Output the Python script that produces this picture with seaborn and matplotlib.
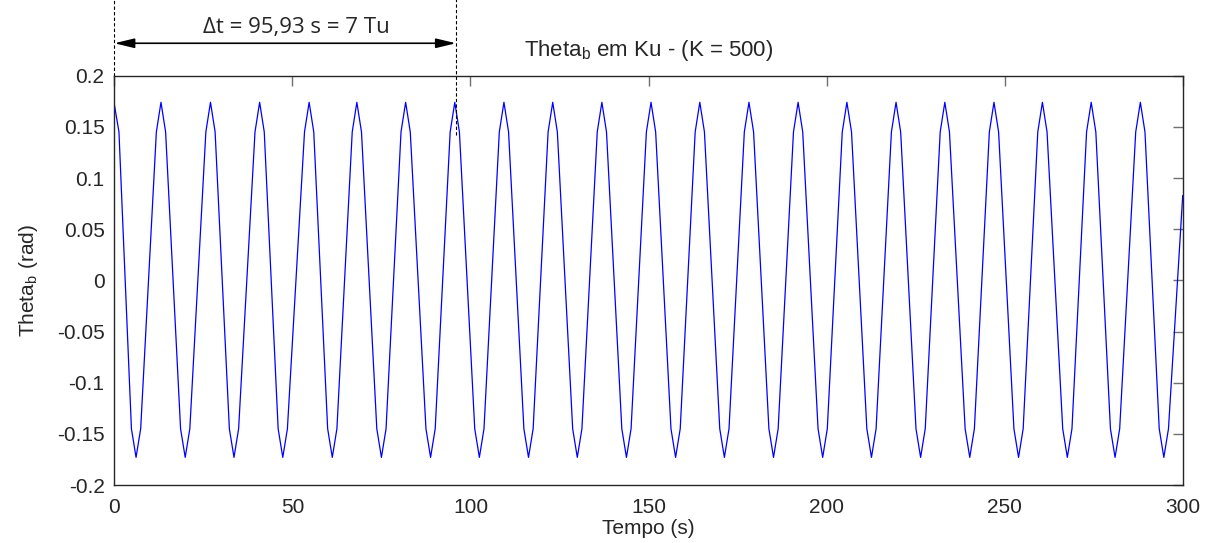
import seaborn as sns
import matplotlib.pyplot as plt
import pandas as pd

# samples of Theta_b (troughs, peaks and the shoulder points)
tempo = [0.0, 1.3,
         4.8, 6.1, 7.4, 11.8, 13.1, 14.4,
         18.6, 19.9, 21.2, 25.7, 27.0, 28.3,
         32.3, 33.6, 34.9, 39.5, 40.8, 42.1,
         46.0, 47.3, 48.6, 53.4, 54.7, 56.0,
         59.9, 61.2, 62.5, 66.8, 68.1, 69.4,
         73.7, 75.0, 76.3, 80.5, 81.8, 83.1,
         87.5, 88.8, 90.1, 94.3, 95.6, 96.9,
         101.2, 102.5, 103.8, 108.1, 109.4, 110.7,
         115.0, 116.3, 117.6, 121.8, 123.1, 124.4,
         128.7, 130.0, 131.3, 135.6, 136.9, 138.2,
         142.5, 143.8, 145.1, 149.4, 150.7, 152.0,
         156.3, 157.6, 158.9, 163.1, 164.4, 165.7,
         170.0, 171.3, 172.6, 176.9, 178.2, 179.5,
         183.8, 185.1, 186.4, 190.7, 192.0, 193.3,
         197.6, 198.9, 200.2, 204.4, 205.7, 207.0,
         211.3, 212.6, 213.9, 218.2, 219.5, 220.8,
         225.1, 226.4, 227.7, 231.9, 233.2, 234.5,
         238.9, 240.2, 241.5, 245.7, 247.0, 248.3,
         252.6, 253.9, 255.2, 259.3, 260.6, 261.9,
         266.3, 267.6, 268.9, 273.0, 274.3, 275.6,
         279.7, 281.0, 282.3, 286.8, 288.1, 289.4,
         293.4, 294.7, 296.0,
         300.0]
theta_b = [0.172, 0.145,
           -0.145, -0.173, -0.145, 0.145, 0.174, 0.145,
           -0.145, -0.173, -0.145, 0.145, 0.174, 0.145,
           -0.145, -0.173, -0.145, 0.145, 0.174, 0.145,
           -0.145, -0.173, -0.145, 0.145, 0.174, 0.145,
           -0.145, -0.173, -0.145, 0.145, 0.174, 0.145,
           -0.145, -0.173, -0.145, 0.145, 0.174, 0.145,
           -0.145, -0.173, -0.145, 0.145, 0.174, 0.145,
           -0.145, -0.173, -0.145, 0.145, 0.174, 0.145,
           -0.145, -0.173, -0.145, 0.145, 0.174, 0.145,
           -0.145, -0.173, -0.145, 0.145, 0.174, 0.145,
           -0.145, -0.173, -0.145, 0.145, 0.174, 0.145,
           -0.145, -0.173, -0.145, 0.145, 0.174, 0.145,
           -0.145, -0.173, -0.145, 0.145, 0.174, 0.145,
           -0.145, -0.173, -0.145, 0.145, 0.174, 0.145,
           -0.145, -0.173, -0.145, 0.145, 0.174, 0.145,
           -0.145, -0.173, -0.145, 0.145, 0.174, 0.145,
           -0.145, -0.173, -0.145, 0.145, 0.174, 0.145,
           -0.145, -0.173, -0.145, 0.145, 0.174, 0.145,
           -0.145, -0.173, -0.145, 0.145, 0.174, 0.145,
           -0.145, -0.173, -0.145, 0.145, 0.174, 0.145,
           -0.145, -0.173, -0.145, 0.145, 0.174, 0.145,
           -0.145, -0.173, -0.145,
           0.083]

xticks = [0, 50, 100, 150, 200, 250, 300]
yticks = [-0.2, -0.15, -0.1, -0.05, 0, 0.05, 0.1, 0.15, 0.2]
ytick_labels = ['-0.2', '-0.15', '-0.1', '-0.05', '0', '0.05', '0.1', '0.15', '0.2']

# 7 periods marked on top
t_ini = 0.0
t_fim = 95.93
delta_txt = '\u0394t = 95,93 s = 7 Tu'

df = pd.DataFrame({'Tempo': tempo, 'Theta': theta_b})

sns.set_style('white')
plt.rcParams['font.family'] = ['Liberation Sans', 'DejaVu Sans']
plt.rcParams['mathtext.fontset'] = 'custom'
plt.rcParams['mathtext.rm'] = 'Liberation Sans'

fig = plt.figure(figsize=(12.06, 5.43), dpi=100)
ax = fig.add_axes([0.0948, 0.1068, 0.8859, 0.7538])

sns.lineplot(data=df, x='Tempo', y='Theta', ax=ax, color='#0000ff',
             linewidth=0.9, sort=False, estimator=None)

ax.set_xlim(0, 300)
ax.set_ylim(-0.2, 0.2)
ax.set_xticks(xticks)
ax.set_xticklabels([str(v) for v in xticks])
ax.set_yticks(yticks)
ax.set_yticklabels(ytick_labels)
ax.tick_params(direction='in', length=7, width=1, color='#707070',
               top=True, right=True, labelsize=15)
ax.tick_params(axis='y', pad=7)
ax.tick_params(axis='x', pad=9)
for s in ax.spines.values():
    s.set_color('#262626')
    s.set_linewidth(1)
    s.set_visible(True)

ax.set_xlabel('Tempo (s)', fontsize=15, labelpad=2)
ax.set_ylabel('Theta$_\\mathregular{b}$ (rad)', fontsize=15, labelpad=12)
ax.set_title('Theta$_\\mathregular{b}$ em Ku - (K = 500)', fontsize=16, pad=14)

# dashed markers and the double arrow above the axes
ax.plot([t_ini, t_ini], [0.2, 0.275], color='black', linestyle=(0, (3, 2)),
        linewidth=0.8, clip_on=False)
ax.plot([t_fim, t_fim], [0.142, 0.275], color='black', linestyle=(0, (3, 2)),
        linewidth=0.8, clip_on=False)
ax.annotate('', xy=(t_ini, 0.2317), xytext=(t_fim, 0.2317),
            arrowprops=dict(arrowstyle='<|-|>,head_length=0.75,head_width=0.18',
                            color='black', lw=1.2, mutation_scale=16,
                            shrinkA=0, shrinkB=0),
            annotation_clip=False)
ax.text(51, 0.2468, delta_txt, ha='center', va='center', fontsize=16,
        family=['Open Sans', 'DejaVu Sans'])

plt.savefig('out.png', dpi=100)
